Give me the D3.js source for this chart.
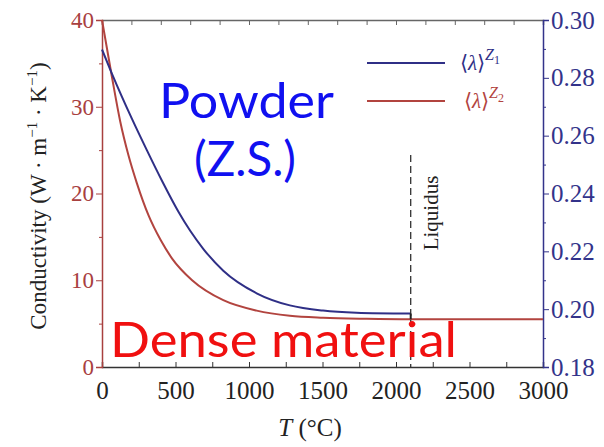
<!DOCTYPE html>
<html>
<head>
<meta charset="utf-8">
<script src="https://cdn.jsdelivr.net/npm/d3@7"></script>
<style>
	body { margin: 0; background: #fff; }
	svg { display: block; }
</style>
</head>
<body>
<svg id="chart" width="604" height="447"></svg>
<script>
/* global d3 */

// pick the first serif face that is really installed
function pickFont(candidates, fallback) {
	const ctx = document.createElement('canvas').getContext('2d');
	const probe = 'Conductivity 0123456789 Liquidus';
	ctx.font = '40px monospace';
	const base = ctx.measureText(probe).width;
	for (const f of candidates) {
		ctx.font = `40px "${f}", monospace`;
		if (Math.abs(ctx.measureText(probe).width - base) > 0.5) return `"${f}"`;
	}
	return fallback;
}

const SERIF = pickFont(['Liberation Serif', 'Tinos', 'Times New Roman', 'DejaVu Serif', 'Noto Serif'], 'serif');
const DECO = "Lato, 'Open Sans', sans-serif";

// Z1 curve (right axis)
const tempZ1 = [0, 68, 204, 305, 407, 520, 600, 690, 825, 1052, 1278, 1504, 1730, 2100];
const lambdaZ1 = [0.2898, 0.2814, 0.2658, 0.2550, 0.2445, 0.2337, 0.2271, 0.2208, 0.2133, 0.2055, 0.2013, 0.1995, 0.1988, 0.1985];

// Z2 curve (left axis)
const tempZ2 = [0, 68, 124, 180, 237, 316, 400, 477, 613, 825, 1052, 1278, 1504, 1800, 2100, 3000];
const lambdaZ2 = [40, 33.4, 28.3, 24.4, 21.2, 17.5, 14.6, 12.5, 10.0, 7.7, 6.5, 5.9, 5.67, 5.55, 5.5, 5.5];

const tempTicks = [0, 500, 1000, 1500, 2000, 2500, 3000];
const leftTicks = [0, 10, 20, 30, 40];
const rightTicks = [0.18, 0.20, 0.22, 0.24, 0.26, 0.28, 0.30];
const liquidusTemp = 2100;

const colLeft = '#a8403f';
const colRight = '#33338a';
const colBlue = '#2f2f86';
const colRed = '#b2443f';

const svg = d3.select('#chart');

const plot = {left: 102, right: 543, top: 20, bottom: 367};

const x = d3.scaleLinear().domain([0, 3000]).range([plot.left, plot.right]);
const yLeft = d3.scaleLinear().domain([0, 40]).range([plot.bottom, plot.top]);
const yRight = d3.scaleLinear().domain([0.18, 0.30]).range([plot.bottom, plot.top]);

// top axis, no labels, ticks inward
svg.append('g')
	.attr('transform', `translate(0,${plot.top})`)
	.call(d3.axisTop(x).ticks(12).tickSize(-5).tickFormat(''))
	.call(g => g.select('.domain').attr('stroke', '#666').attr('stroke-width', 1.5))
	.call(g => g.selectAll('.tick line').attr('stroke', '#666'));

// bottom axis
const bottomAxis = svg.append('g')
	.attr('transform', `translate(0,${plot.bottom})`)
	.call(d3.axisBottom(x).tickValues(d3.range(0, 3001, 250)).tickSize(-5)
		.tickFormat(d => tempTicks.includes(d) ? d : ''));
bottomAxis.attr('font-family', SERIF).attr('font-size', 25);
bottomAxis.select('.domain').attr('stroke', '#333').attr('stroke-width', 1.5);
bottomAxis.selectAll('.tick line').attr('stroke', '#333');
bottomAxis.selectAll('.tick text')
	.attr('fill', '#222')
	.attr('y', 14);

// left axis
const leftAxis = svg.append('g')
	.attr('transform', `translate(${plot.left},0)`)
	.call(d3.axisLeft(yLeft).tickValues(d3.range(0, 41, 5)).tickSize(6)
		.tickFormat(d => leftTicks.includes(d) ? d : ''));
leftAxis.attr('font-family', SERIF).attr('font-size', 23);
leftAxis.select('.domain').attr('stroke', colLeft).attr('stroke-width', 1.5);
leftAxis.selectAll('.tick line').attr('stroke', colLeft)
	.attr('x2', d => leftTicks.includes(d) ? -6 : -3);
leftAxis.selectAll('.tick text')
	.attr('fill', colLeft)
	.attr('x', -8);

// right axis
const rightAxis = svg.append('g')
	.attr('transform', `translate(${plot.right},0)`)
	.call(d3.axisRight(yRight).tickValues(d3.range(0, 13).map(i => 0.18 + i * 0.01)).tickSize(6)
		.tickFormat((d, i) => i % 2 === 0 ? d3.format('.2f')(d) : ''));
rightAxis.attr('font-family', SERIF).attr('font-size', 25);
rightAxis.select('.domain').attr('stroke', colRight).attr('stroke-width', 1.5);
rightAxis.selectAll('.tick line').attr('stroke', colRight)
	.attr('x2', (d, i) => i % 2 === 0 ? 6 : 3);
rightAxis.selectAll('.tick text')
	.attr('fill', colRight)
	.attr('x', 8);

// curves
const lineZ2 = d3.line()
	.x((d, i) => x(tempZ2[i]))
	.y(d => yLeft(d))
	.curve(d3.curveMonotoneX);

const lineZ1 = d3.line()
	.x((d, i) => x(tempZ1[i]))
	.y(d => yRight(d))
	.curve(d3.curveMonotoneX);

svg.append('path')
	.attr('d', lineZ2(lambdaZ2))
	.attr('fill', 'none')
	.attr('stroke', colRed)
	.attr('stroke-width', 2);

svg.append('path')
	.attr('d', lineZ1(lambdaZ1))
	.attr('fill', 'none')
	.attr('stroke', colBlue)
	.attr('stroke-width', 2);

// liquidus marker
svg.append('line')
	.attr('x1', x(liquidusTemp)).attr('x2', x(liquidusTemp))
	.attr('y1', 155).attr('y2', plot.bottom)
	.attr('stroke', '#333')
	.attr('stroke-width', 1.3)
	.attr('stroke-dasharray', '7,4');

svg.append('line')
	.attr('x1', x(liquidusTemp)).attr('x2', x(liquidusTemp))
	.attr('y1', yRight(lambdaZ1[lambdaZ1.length - 1]))
	.attr('y2', yLeft(lambdaZ2[tempZ2.indexOf(liquidusTemp)]))
	.attr('stroke', '#222')
	.attr('stroke-width', 2);

svg.append('text')
	.attr('font-family', SERIF)
	.attr('transform', `translate(${x(liquidusTemp) + 27},213) rotate(-90)`)
	.attr('text-anchor', 'middle')
	.attr('font-size', 21)
	.attr('fill', '#222')
	.text('Liquidus');

// legend
const legend = [
	{label: '1', color: colBlue, y: 63},
	{label: '2', color: colRed, y: 101},
];
legend.forEach((d, i) => {
	svg.append('line')
		.attr('x1', 367).attr('x2', 445)
		.attr('y1', d.y).attr('y2', d.y)
		.attr('stroke', d.color)
		.attr('stroke-width', 2);
	const t = svg.append('text')
		.attr('font-family', SERIF)
		.attr('x', 460 + i * 4)
		.attr('y', d.y + 7)
		.attr('font-size', 21)
		.attr('fill', d.color);
	t.append('tspan').text('⟨');
	t.append('tspan').attr('font-style', 'italic').text('λ');
	t.append('tspan').text('⟩');
	t.append('tspan').attr('font-style', 'italic').attr('font-size', 16).attr('dy', -10).text('Z');
	t.append('tspan').attr('font-size', 12).attr('dy', 4).text(d.label);
});

// axis titles
svg.append('text')
	.attr('font-family', SERIF)
	.attr('transform', 'translate(46,196) rotate(-90)')
	.attr('text-anchor', 'middle')
	.attr('font-size', 23)
	.attr('fill', '#222')
	.call(t => {
		t.append('tspan').text('Conductivity (W · m');
		t.append('tspan').attr('font-size', 15).attr('dy', -9).text('−1');
		t.append('tspan').attr('dy', 9).text(' · K');
		t.append('tspan').attr('font-size', 15).attr('dy', -9).text('−1');
		t.append('tspan').attr('dy', 9).text(')');
	});

svg.append('text')
	.attr('font-family', SERIF)
	.attr('x', 310)
	.attr('y', 436)
	.attr('text-anchor', 'middle')
	.attr('font-size', 25)
	.attr('fill', '#222')
	.call(t => {
		t.append('tspan').attr('font-style', 'italic').text('T');
		t.append('tspan').text(' (°C)');
	});

// annotations
svg.append('text')
	.attr('font-family', DECO)
	.attr('x', 159).attr('y', 118)
	.attr('font-size', 48)
	.attr('textLength', 175)
	.attr('lengthAdjust', 'spacingAndGlyphs')
	.attr('fill', '#1010f0')
	.text('Powder');

svg.append('text')
	.attr('font-family', DECO)
	.attr('x', 194).attr('y', 176)
	.attr('font-size', 48)
	.attr('textLength', 102)
	.attr('lengthAdjust', 'spacingAndGlyphs')
	.attr('fill', '#1010f0')
	.text('(Z.S.)');

svg.append('text')
	.attr('font-family', DECO)
	.attr('x', 110).attr('y', 357)
	.attr('font-size', 48)
	.attr('textLength', 347)
	.attr('lengthAdjust', 'spacingAndGlyphs')
	.attr('fill', '#f01010')
	.text('Dense material');
</script>
</body>
</html>
